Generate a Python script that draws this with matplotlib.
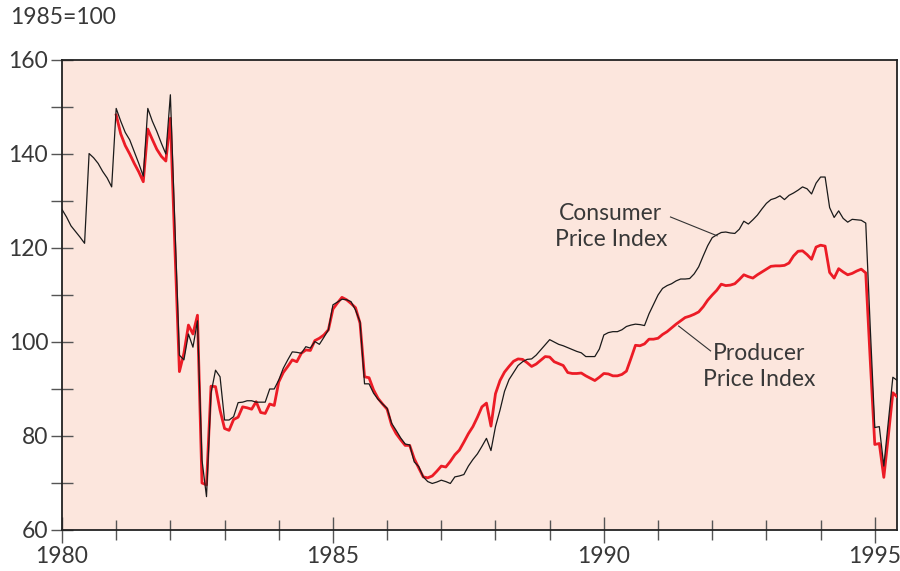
import numpy as np
import matplotlib
matplotlib.use("Agg")
import matplotlib.pyplot as plt

plt.rcParams["font.family"] = ["Lato", "DejaVu Sans"]

# monthly index values, 1985=100, starting January 1980
cpi = [
    128.2, 126.6, 124.7, 123.5, 122.3, 121.0, 140.1, 139.2, 138.0, 136.3, 134.9, 133.0,  # 1980
    149.7, 147.0, 144.6, 143.0, 140.5, 138.0, 135.3, 149.7, 147.0, 144.8, 142.3, 140.0,  # 1981
    152.6, 125.0, 97.2, 96.2, 101.7, 98.9, 104.5, 74.9, 67.1, 89.1, 94.0, 92.6,          # 1982
    83.4, 83.4, 84.1, 87.1, 87.2, 87.5, 87.5, 87.2, 87.2, 87.2, 90.0, 90.0,              # 1983
    91.9, 94.4, 96.2, 97.9, 97.8, 97.6, 99.0, 98.7, 100.1, 99.5, 101.0, 102.6,           # 1984
    107.9, 108.5, 109.1, 109.0, 108.6, 106.8, 104.3, 91.1, 91.1, 89.1, 87.8, 86.8,       # 1985
    85.9, 82.7, 81.2, 79.6, 78.3, 78.1, 74.5, 73.5, 71.3, 70.3, 69.9, 70.2,              # 1986
    70.6, 70.3, 69.9, 71.3, 71.5, 71.8, 73.6, 75.0, 76.2, 77.8, 79.5, 76.9,              # 1987
    82.0, 85.5, 89.5, 92.0, 93.5, 95.0, 95.8, 96.3, 96.4, 97.2, 98.3, 99.4,              # 1988
    100.5, 100.0, 99.5, 99.2, 98.8, 98.4, 98.0, 97.7, 96.9, 96.9, 96.9, 98.5,            # 1989
    101.5, 102.0, 102.2, 102.2, 102.6, 103.3, 103.6, 103.8, 103.7, 103.5, 106.0, 108.0,  # 1990
    110.0, 111.4, 112.0, 112.4, 113.0, 113.4, 113.4, 113.5, 114.5, 116.0, 118.3, 120.5,  # 1991
    122.2, 122.8, 123.3, 123.4, 123.2, 123.1, 124.0, 125.7, 125.1, 126.0, 127.0, 128.3,  # 1992
    129.5, 130.3, 130.6, 131.1, 130.3, 131.2, 131.7, 132.3, 133.0, 132.6, 131.5, 133.8,  # 1993
    135.1, 135.1, 128.6, 126.5, 127.9, 126.3, 125.5, 126.1, 126.0, 125.9, 125.3, 103.0,  # 1994
    81.8, 82.0, 73.6, 83.0, 92.5, 91.8,                                                  # 1995
]

# producer price index starts January 1981
ppi = [
    148.3, 144.3, 141.8, 140.0, 138.0, 136.2, 134.1, 145.3, 143.1, 141.0, 139.5, 138.5,  # 1981
    147.6, 120.0, 93.7, 97.6, 103.6, 101.7, 105.7, 70.0, 69.6, 90.6, 90.5, 85.5,         # 1982
    81.6, 81.2, 83.5, 84.0, 86.2, 86.0, 85.7, 87.3, 85.0, 84.8, 86.8, 86.5,              # 1983
    91.5, 93.5, 94.8, 96.2, 95.8, 97.6, 98.3, 98.2, 100.3, 100.8, 101.5, 102.6,          # 1984
    107.0, 108.3, 109.5, 109.0, 108.2, 107.3, 104.0, 92.6, 92.4, 89.8, 88.0, 86.8,       # 1985
    85.7, 82.3, 80.5, 79.2, 78.0, 78.0, 75.2, 73.2, 71.3, 71.1, 71.5, 72.5,              # 1986
    73.6, 73.4, 74.6, 76.0, 77.0, 78.7, 80.5, 82.0, 84.0, 86.2, 87.0, 82.1,              # 1987
    89.0, 91.8, 93.6, 94.8, 95.9, 96.4, 96.3, 95.6, 94.8, 95.3, 96.1, 96.9,              # 1988
    96.8, 95.8, 95.4, 95.0, 93.5, 93.3, 93.3, 93.4, 92.8, 92.3, 91.8, 92.5,              # 1989
    93.3, 93.2, 92.8, 92.8, 93.1, 93.8, 96.5, 99.3, 99.2, 99.6, 100.6, 100.6,            # 1990
    100.8, 101.6, 102.2, 103.0, 103.8, 104.5, 105.2, 105.5, 105.9, 106.4, 107.5, 108.9,  # 1991
    110.0, 111.0, 112.3, 112.0, 112.1, 112.4, 113.3, 114.3, 113.9, 113.6, 114.3, 114.9,  # 1992
    115.5, 116.1, 116.2, 116.2, 116.3, 116.8, 118.3, 119.3, 119.4, 118.6, 117.6, 120.2,  # 1993
    120.6, 120.4, 114.8, 113.6, 115.6, 114.9, 114.3, 114.6, 115.1, 115.5, 114.7, 96.0,   # 1994
    78.2, 78.4, 71.2, 80.0, 89.2, 88.3,                                                  # 1995
]

cpi_start = 1980
ppi_start = 1981
year_labels = [1980, 1985, 1990, 1995]
y_labels = [60, 80, 100, 120, 140, 160]

text_col = "#383838"
bg_col = "#fce6dd"
red = "#ec1c26"
fs = 16.5

x_cpi = cpi_start + np.arange(len(cpi)) / 12
x_ppi = ppi_start + np.arange(len(ppi)) / 12

fig = plt.figure(figsize=(9, 5.71), dpi=100)
ax = fig.add_axes([62 / 900, 41 / 571, 835 / 900, 470 / 571])
ax.set_facecolor(bg_col)

ax.plot(x_ppi, ppi, color=red, lw=2.0, solid_joinstyle="round", zorder=3)
ax.plot(x_cpi, cpi, color="#1a1a1a", lw=0.9, zorder=4)

ax.set_xlim(1980, 1995.41)
ax.set_ylim(60, 160)

ax.set_xticks(year_labels)
ax.set_xticklabels([str(y) for y in year_labels])
ax.set_xticks(range(1980, 1996), minor=True)
ax.set_yticks(y_labels)
ax.set_yticks(range(60, 161, 10), minor=True)

ax.tick_params(axis="x", which="major", direction="inout", length=19, width=1.0,
               color="#555555", labelsize=fs, labelcolor=text_col, pad=2)
ax.tick_params(axis="x", which="minor", direction="inout", length=15, width=1.0,
               color="#555555")
ax.tick_params(axis="y", which="both", direction="inout", length=16, width=1.0,
               color="#555555", labelsize=fs, labelcolor=text_col, pad=2)

for s in ax.spines.values():
    s.set_linewidth(1.3)
    s.set_color("#222222")

fig.text(10 / 900, 1 - 18 / 571, "1985=100", fontsize=fs, color=text_col,
         ha="left", va="center")

ax.text(1990.13, 124.5, "Consumer\nPrice Index", fontsize=fs, color=text_col,
        ha="center", va="center", linespacing=1.3)
ax.plot([1991.23, 1992.09], [126.6, 122.6], color="#333333", lw=0.8, zorder=5)

ax.text(1992.86, 94.8, "Producer\nPrice Index", fontsize=fs, color=text_col,
        ha="center", va="center", linespacing=1.3)
ax.plot([1991.38, 1991.97], [103.4, 98.1], color="#333333", lw=0.8, zorder=5)

fig.savefig("out.png", dpi=100)
